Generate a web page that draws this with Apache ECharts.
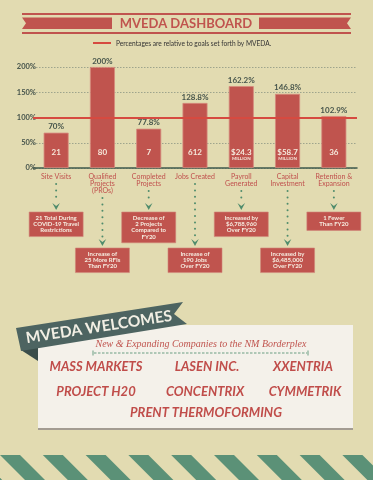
<!DOCTYPE html>
<html><head><meta charset="utf-8">
<script src="https://cdn.jsdelivr.net/npm/echarts@6/dist/echarts.min.js"></script>
<style>html,body{margin:0;padding:0;background:#e2dbb1;}#c{width:373px;height:480px;}</style>
</head><body><div id="c"></div>
<script>
const categories = ['Site Visits','Qualified\nProjects\n(PROs)','Completed\nProjects','Jobs Created','Payroll\nGenerated','Capital\nInvestment','Retention &\nExpansion'];
const percentOfGoal = [70, 200, 77.8, 128.8, 162.2, 146.8, 102.9];
const actualValues = ['21', '80', '7', '612', '$24.3', '$58.7', '36'];
const actualUnits = ['', '', '', '', 'MILLION', 'MILLION', ''];
const notes = ['21 Total During\nCOVID-19 Travel\nRestrictions','Increase of\n25 More RFIs\nThan FY20','Decrease of\n2 Projects\nCompared to\nFY20','Increase of\n190 Jobs\nOver FY20','Increased by\n$6,788,960\nOver FY20','Increased by\n$6,485,000\nOver FY20','1 Fewer\nThan FY20'];
const noteRow = [0, 1, 0, 1, 0, 1, 0];
const yTicks = [0, 50, 100, 150, 200];
const goalLine = 100;
const companyRows = [['MASS MARKETS','LASEN INC.','XXENTRIA'],['PROJECT H20','CONCENTRIX','CYMMETRIK'],['PRENT THERMOFORMING']];

const RED = '#c0544e', GREEN = '#4f8c6c', DARK = '#46544b', BG = '#e2dbb1';
const chart = echarts.init(document.getElementById('c'), null, {renderer:'canvas'});

function staticGraphics(){
  const g = [];
  // title banner
  g.push({type:'rect', shape:{x:22,y:13,width:329,height:2}, style:{fill:RED}});
  g.push({type:'rect', shape:{x:22,y:32,width:329,height:2}, style:{fill:RED}});
  g.push({type:'polygon', shape:{points:[[22,17.5],[112,17.5],[112,29],[22,29],[26,23.2]]}, style:{fill:RED}});
  g.push({type:'polygon', shape:{points:[[259,17.5],[351,17.5],[347,23.2],[351,29],[259,29]]}, style:{fill:RED}});
  g.push({type:'text', style:{text:'MVEDA DASHBOARD', x:186, y:23.5, align:'center', verticalAlign:'middle', fontSize:13, fontWeight:'bold', fontFamily:'Lato', fill:RED}});
  // legend
  g.push({type:'rect', shape:{x:93,y:42,width:18,height:2}, style:{fill:'#d64a40'}});
  g.push({type:'text', style:{text:'Percentages are relative to goals set forth by MVEDA.', x:116, y:43.5, align:'left', verticalAlign:'middle', fontSize:6.6, fontFamily:'Lato', fill:'#333'}});
  // welcome panel
  g.push({type:'rect', shape:{x:38,y:327,width:315,height:103}, style:{fill:'#a39c92'}});
  g.push({type:'rect', shape:{x:38,y:325,width:315,height:103}, style:{fill:'#f4f1ea'}});
  g.push({type:'polygon', shape:{points:[[21,350],[38,347],[38,361]]}, style:{fill:'#3a4d4a'}});
  g.push({type:'polygon', shape:{points:[[16,328],[183,302],[174,314],[187,324],[21,351]]}, style:{fill:'#4d6461'}});
  g.push({type:'text', x:99, y:327, rotation:0.153, style:{text:'MVEDA WELCOMES', x:0, y:0, align:'center', verticalAlign:'middle', fontSize:15.5, fontWeight:'bold', fontFamily:'Lato', fill:'#f2efe4'}});
  g.push({type:'text', style:{text:'New & Expanding Companies to the NM Borderplex', x:201, y:344, align:'center', verticalAlign:'middle', fontSize:10, fontStyle:'italic', fontFamily:'Liberation Serif', fill:RED}});
  g.push({type:'line', shape:{x1:94,y1:353,x2:307,y2:353}, style:{stroke:'#6a9e82', lineWidth:1, lineDash:[2.5,1.5]}});
  g.push({type:'line', shape:{x1:93,y1:350.5,x2:93,y2:355.5}, style:{stroke:'#6a9e82', lineWidth:1}});
  g.push({type:'line', shape:{x1:308,y1:350.5,x2:308,y2:355.5}, style:{stroke:'#6a9e82', lineWidth:1}});
  const rowX = [[96,207,303],[96,205,305],[206]];
  const rowY = [367,392,413];
  companyRows.forEach((row,r)=>row.forEach((name,k)=>{
    g.push({type:'text', style:{text:name, x:rowX[r][k], y:rowY[r], align:'center', verticalAlign:'middle', fontSize:13, fontWeight:'bold', fontStyle:'italic', fontFamily:'Lato', fill:'#c04d4a'}});
  }));
  // stripes
  for(let i=-1;i<10;i++){
    const x0=i*42.8;
    g.push({type:'polygon', shape:{points:[[x0,455],[x0+20,455],[x0+45,480],[x0+25,480]]}, style:{fill:'#5b9177'}});
  }
  return g;
}

chart.setOption({
  backgroundColor: BG,
  animation:false,
  grid:{left:33, right:16, top:67, bottom:312, containLabel:false},
  xAxis:{type:'category', data:categories,
    axisLine:{lineStyle:{color:'#3f5a4c', width:1.5}}, axisTick:{show:false},
    axisLabel:{color:'#c0504d', fontSize:7, lineHeight:7, margin:5, fontFamily:'Lato', interval:0}},
  yAxis:{type:'value', min:yTicks[0], max:yTicks[yTicks.length-1], interval:50,
    axisLine:{show:false}, axisTick:{show:false},
    axisLabel:{formatter:'{value}%', color:DARK, fontSize:7.5, fontWeight:'bold', fontFamily:'Lato', margin:-3},
    splitLine:{lineStyle:{color:'#9ea48c', type:[1.5,1.5], width:1}}},
  series:[
    {type:'bar', data:percentOfGoal, barWidth:25,
     itemStyle:{color:RED, borderColor:'#d58a7e', borderWidth:0.8},
     label:{show:true, position:'top', distance:2, formatter:(p)=>p.value+'%', color:DARK, fontSize:8, fontWeight:'bold', fontFamily:'Lato'},
     markLine:{silent:true, symbol:'none', data:[{yAxis:goalLine}], label:{show:false}, lineStyle:{color:'#d64a40', width:2, type:'solid'}}, z:2},
    {type:'bar', barGap:'-100%', barWidth:25, z:3,
     data:percentOfGoal.map((v,i)=>({value:v, label:{distance: actualUnits[i] ? 6.5 : 11}})),
     itemStyle:{color:'rgba(0,0,0,0)'},
     label:{show:true, position:'insideBottom', color:'#f5e9dc', fontFamily:'Lato',
       formatter:(p)=> actualUnits[p.dataIndex] ? '{a|'+actualValues[p.dataIndex]+'}\n{b|'+actualUnits[p.dataIndex]+'}' : '{a|'+actualValues[p.dataIndex]+'}',
       rich:{a:{fontSize:8, fontWeight:'bold', color:'#f5e9dc', lineHeight:9, fontFamily:'Lato'}, b:{fontSize:4.5, fontWeight:'bold', color:'#f5e9dc', lineHeight:5, fontFamily:'Lato'}}}}
  ],
  graphic: staticGraphics()
});

// arrows and note boxes positioned from the category axis
const extra = [];
categories.forEach((c,i)=>{
  const cx = chart.convertToPixel({xAxisIndex:0}, i);
  const lines = c.split('\n').length;
  const nLines = notes[i].split('\n').length;
  const boxTop = noteRow[i] === 0 ? 212 : 248;
  const h = nLines*6.2 + 6;
  const headTop = boxTop - 9;
  for(let y = 177 + lines*7; y < headTop - 2; y += 6.4){
    extra.push({type:'circle', shape:{cx:cx, cy:y, r:1}, style:{fill:GREEN}});
  }
  extra.push({type:'polygon', shape:{points:[[cx-3.8,headTop],[cx,headTop+3],[cx+3.8,headTop],[cx,headTop+7]]}, style:{fill:GREEN}});
  extra.push({type:'rect', shape:{x:cx-27, y:boxTop, width:54, height:h}, style:{fill:RED, stroke:'#d08478', lineWidth:0.6}});
  extra.push({type:'text', style:{text:notes[i], x:cx, y:boxTop+h/2, align:'center', verticalAlign:'middle', fontSize:6, lineHeight:6.2, fontFamily:'Lato', fontWeight:'bold', fill:'#f6ece0'}});
});
chart.setOption({graphic: staticGraphics().concat(extra)}, {replaceMerge:['graphic']});
</script></body></html>
